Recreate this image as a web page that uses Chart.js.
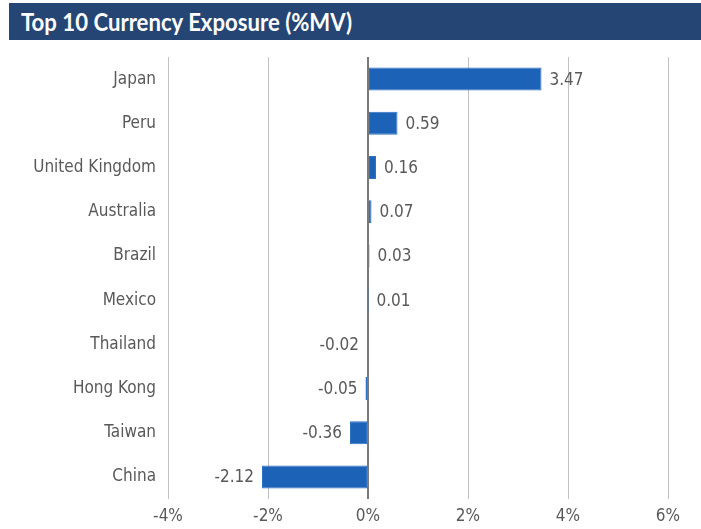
<!DOCTYPE html>
<html>
<head>
<meta charset="utf-8">
<script src="https://cdn.jsdelivr.net/npm/chart.js@4.4.1/dist/chart.umd.min.js"></script>
<style>
  html, body { margin: 0; padding: 0; background: #ffffff; }
  #wrap { position: relative; width: 701px; height: 529px; overflow: hidden; }
  #titlebar { position: absolute; left: 9px; top: 3px; width: 692px; height: 37px; background: #254674; }
  #title { position: absolute; left: 12px; top: 0; line-height: 37px; color: #ffffff;
           font-family: 'Lato', 'DejaVu Sans Condensed', sans-serif;
           font-weight: bold; font-size: 24px; white-space: nowrap; transform-origin: 0 50%; }
  #c { position: absolute; left: 0; top: 0; }
</style>
</head>
<body>
<div id="wrap">
  <div id="titlebar"><div id="title">Top 10 Currency Exposure (%MV)</div></div>
  <canvas id="c" width="701" height="529"></canvas>
</div>
<script>
const categories = ['Japan', 'Peru', 'United Kingdom', 'Australia', 'Brazil', 'Mexico', 'Thailand', 'Hong Kong', 'Taiwan', 'China'];
const exposure = [3.47, 0.59, 0.16, 0.07, 0.03, 0.01, -0.02, -0.05, -0.36, -2.12];
const xTicks = [-4, -2, 0, 2, 4, 6];

const FONT = "'DejaVu Sans Condensed', 'Liberation Sans Narrow', 'Roboto', sans-serif";
const TEXT = '#595959';

// fit the title to the reference width
(function () {
  const t = document.getElementById('title');
  const w = t.getBoundingClientRect().width;
  if (w > 0) t.style.transform = 'scaleX(' + (331 / w) + ')';
})();

const labelPlugin = {
  id: 'barLabels',
  afterDatasetsDraw(chart) {
    const ctx = chart.ctx;
    const meta = chart.getDatasetMeta(0);
    ctx.save();
    ctx.font = '17px ' + FONT;
    ctx.fillStyle = TEXT;
    ctx.textBaseline = 'middle';
    meta.data.forEach((bar, i) => {
      const v = exposure[i];
      const txt = v.toFixed(2);
      if (v >= 0) {
        ctx.textAlign = 'left';
        ctx.fillText(txt, bar.x + 8, bar.y + 1);
      } else {
        ctx.textAlign = 'right';
        ctx.fillText(txt, bar.x - 8, bar.y + 1);
      }
    });
    ctx.restore();
  }
};

new Chart(document.getElementById('c'), {
  type: 'bar',
  data: {
    labels: categories,
    datasets: [{
      data: exposure,
      backgroundColor: '#1c63b7',
      borderColor: '#2f72c4',
      borderWidth: 1,
      borderSkipped: false,
      categoryPercentage: 1,
      barPercentage: 0.52
    }]
  },
  options: {
    indexAxis: 'y',
    responsive: false,
    animation: false,
    layout: { padding: { left: 0, right: 33, top: 57, bottom: 0 } },
    plugins: { legend: { display: false }, tooltip: { enabled: false }, title: { display: false } },
    scales: {
      x: {
        min: -4, max: 6,
        afterBuildTicks(axis) { axis.ticks = xTicks.map(v => ({ value: v })); },
        afterFit(axis) { axis.height = 30; },
        ticks: {
          color: TEXT,
          font: { family: FONT, size: 17 },
          padding: 7,
          callback: v => v + '%'
        },
        grid: {
          drawTicks: false,
          color: ctx => (ctx.tick && ctx.tick.value === 0) ? '#7a7a7a' : '#c2c2c2',
          lineWidth: ctx => (ctx.tick && ctx.tick.value === 0) ? 2 : 1
        },
        border: { display: false }
      },
      y: {
        afterFit(axis) { axis.width = 168; },
        ticks: {
          color: TEXT,
          font: { family: FONT, size: 17 },
          padding: 12
        },
        grid: { display: false, drawTicks: false },
        border: { display: false }
      }
    }
  },
  plugins: [labelPlugin]
});
</script>
</body>
</html>
